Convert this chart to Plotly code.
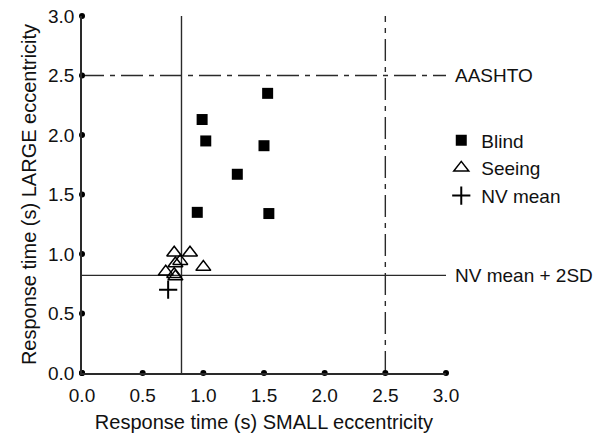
import plotly.graph_objects as go

# Data
blind_x = [1.53, 0.99, 1.02, 1.50, 1.28, 0.95, 1.54]
blind_y = [2.35, 2.13, 1.95, 1.91, 1.67, 1.35, 1.34]

seeing_x = [0.76, 0.89, 1.00, 0.77, 0.81, 0.69, 0.76, 0.77]
seeing_y = [1.01, 1.01, 0.89, 0.92, 0.94, 0.85, 0.83, 0.81]

nv_mean_x = [0.71]
nv_mean_y = [0.70]

nv_2sd = 0.82      # NV mean + 2SD criterion
aashto = 2.5       # AASHTO criterion

tick_vals = [0.0, 0.5, 1.0, 1.5, 2.0, 2.5, 3.0]
tick_text = ["0.0", "0.5", "1.0", "1.5", "2.0", "2.5", "3.0"]
axis_max = 3.0

FONT = "Liberation Sans, Arial, Helvetica, sans-serif"
LINE = "#2a2a2a"
TXT = "#111"
DASHDOT = "22px,6px,5px,6px"

fig = go.Figure()

# criterion lines
fig.add_trace(go.Scatter(x=[nv_2sd, nv_2sd], y=[0, axis_max], mode="lines",
                         line=dict(color=LINE, width=1.4), showlegend=False, hoverinfo="skip"))
fig.add_trace(go.Scatter(x=[0, axis_max], y=[nv_2sd, nv_2sd], mode="lines",
                         line=dict(color=LINE, width=1.4), showlegend=False, hoverinfo="skip"))
fig.add_trace(go.Scatter(x=[aashto, aashto], y=[0, axis_max], mode="lines",
                         line=dict(color=LINE, width=1.4, dash=DASHDOT), showlegend=False, hoverinfo="skip"))
fig.add_trace(go.Scatter(x=[0, axis_max], y=[aashto, aashto], mode="lines",
                         line=dict(color=LINE, width=1.4, dash=DASHDOT), showlegend=False, hoverinfo="skip"))

# data
fig.add_trace(go.Scatter(x=blind_x, y=blind_y, mode="markers", name="Blind",
                         marker=dict(symbol="square", size=11, color="black")))
fig.add_trace(go.Scatter(x=seeing_x, y=seeing_y, mode="markers", name="Seeing",
                         marker=dict(symbol="triangle-up-open", size=13, color="black",
                                     line=dict(width=1.5, color="black"))))
fig.add_trace(go.Scatter(x=nv_mean_x, y=nv_mean_y, mode="markers", name="NV mean",
                         marker=dict(symbol="cross-thin-open", size=13, color="black",
                                     line=dict(width=2, color="black"))))

# tick dots on the axes
fig.add_trace(go.Scatter(x=tick_vals, y=[0] * len(tick_vals), mode="markers", cliponaxis=False,
                         marker=dict(size=6, color="black"), showlegend=False, hoverinfo="skip"))
fig.add_trace(go.Scatter(x=[0] * len(tick_vals), y=tick_vals, mode="markers", cliponaxis=False,
                         marker=dict(size=6, color="black"), showlegend=False, hoverinfo="skip"))

fig.add_annotation(x=1, xref="paper", y=aashto, yref="y", text="AASHTO", showarrow=False,
                   xanchor="left", xshift=7, font=dict(size=19, color=TXT, family=FONT))
fig.add_annotation(x=1, xref="paper", y=nv_2sd, yref="y", text="NV mean + 2SD", showarrow=False,
                   xanchor="left", xshift=7, font=dict(size=19, color=TXT, family=FONT))

axis_common = dict(range=[0, axis_max], tickvals=tick_vals, ticktext=tick_text, automargin=False,
                   showgrid=False, zeroline=False, showline=True, linecolor=LINE, linewidth=1.5,
                   ticks="", tickfont=dict(size=19, color=TXT, family=FONT),
                   title_font=dict(size=20, color=TXT, family=FONT))

fig.update_layout(
    width=608, height=447,
    margin=dict(l=82, r=162, t=16, b=74),
    paper_bgcolor="white", plot_bgcolor="white",
    font=dict(family=FONT, size=19, color=TXT),
    xaxis=dict(**axis_common, title_text="Response time (s) SMALL eccentricity", title_standoff=10,
               ticklabelstandoff=4),
    yaxis=dict(**axis_common, title_text="Response time (s) LARGE eccentricity", title_standoff=6,
               ticklabelstandoff=2),
    legend=dict(x=0.987, xanchor="left", y=0.705, yanchor="top", bgcolor="rgba(0,0,0,0)",
                font=dict(size=19, color=TXT, family=FONT), itemwidth=30),
    showlegend=True,
)

fig.write_html("out.html", config={"displayModeBar": False},
               post_script="document.body.style.margin='0';")
